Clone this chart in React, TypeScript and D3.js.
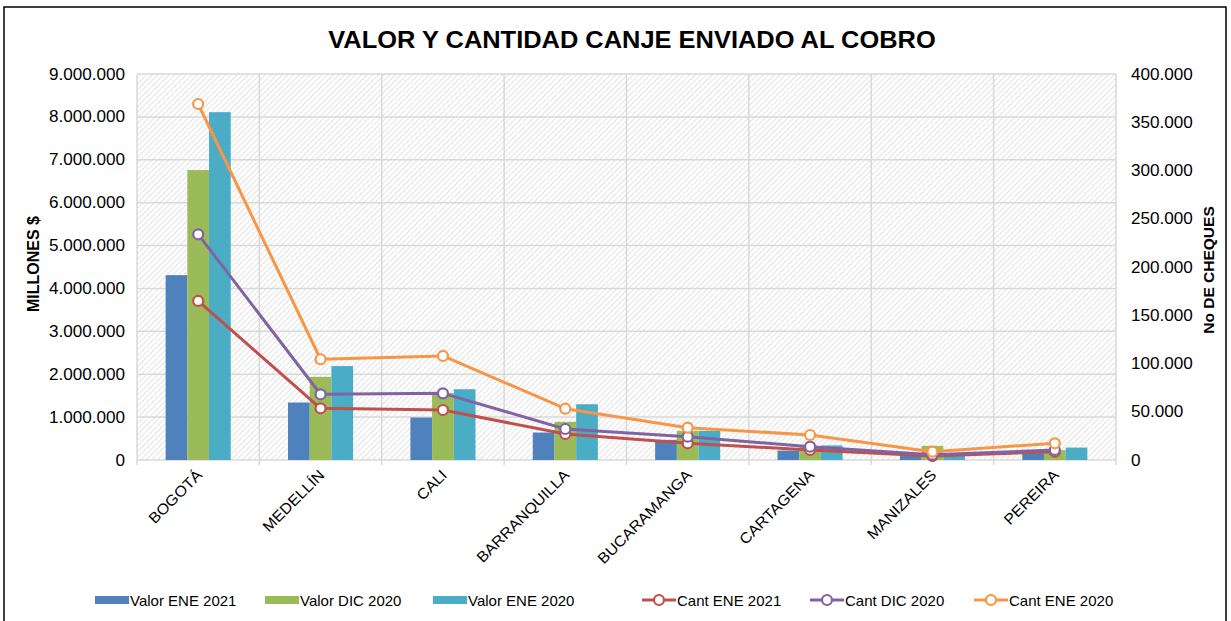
import React from 'react';
import * as d3 from 'd3';

const cities = ['BOGOTÁ', 'MEDELLÍN', 'CALI', 'BARRANQUILLA', 'BUCARAMANGA', 'CARTAGENA', 'MANIZALES', 'PEREIRA'];

// valores en millones $
const valorEne2021 = [4310000, 1340000, 990000, 640000, 470000, 220000, 120000, 160000];
const valorDic2020 = [6760000, 1940000, 1560000, 890000, 680000, 310000, 330000, 230000];
const valorEne2020 = [8110000, 2190000, 1650000, 1300000, 680000, 340000, 160000, 290000];

// cantidad de cheques
const cantEne2021 = [164800, 53600, 51800, 27000, 17300, 10400, 4100, 8600];
const cantDic2020 = [233900, 68100, 69100, 32100, 24200, 13800, 5500, 10400];
const cantEne2020 = [368900, 104400, 107800, 53200, 33500, 25900, 8600, 17300];

const leftTicks = [0, 1000000, 2000000, 3000000, 4000000, 5000000, 6000000, 7000000, 8000000, 9000000];
const rightTicks = [0, 50000, 100000, 150000, 200000, 250000, 300000, 350000, 400000];

const barSeries = [
  { name: 'Valor ENE 2021', values: valorEne2021, color: '#4F81BD' },
  { name: 'Valor DIC 2020', values: valorDic2020, color: '#9BBB59' },
  { name: 'Valor ENE 2020', values: valorEne2020, color: '#4BACC6' },
];
const lineSeries = [
  { name: 'Cant ENE 2021', values: cantEne2021, color: '#C0504D' },
  { name: 'Cant DIC 2020', values: cantDic2020, color: '#8064A2' },
  { name: 'Cant ENE 2020', values: cantEne2020, color: '#F79646' },
];

const W = 1231, H = 621;
const plot = { left: 137, right: 1116, top: 74, bottom: 460 };
const font = '"Liberation Sans", Arial, sans-serif';
const SX = 1.07; // el texto del original es algo mas ancho

const fmt = d3.formatLocale({ decimal: ',', thousands: '.', grouping: [3], currency: ['$', ''] }).format(',.0f');

export default function App() {
  const x = d3.scaleBand<string>().domain(cities).range([plot.left, plot.right]);
  const xs = d3.scaleBand<string>()
    .domain(barSeries.map(s => s.name))
    .range([0, x.bandwidth()])
    .paddingInner(0)
    .paddingOuter(1.32);
  const yL = d3.scaleLinear().domain([0, 9000000]).range([plot.bottom, plot.top]);
  const yR = d3.scaleLinear().domain([0, 400000]).range([plot.bottom, plot.top]);

  const line = (vals: number[]) =>
    d3.line<number>()
      .x((_, i) => x(cities[i])! + x.bandwidth() / 2)
      .y(d => yR(d))(vals) || '';

  const legendItems = [
    { name: 'Valor ENE 2021', color: '#4F81BD', kind: 'bar', x: 95 },
    { name: 'Valor DIC 2020', color: '#9BBB59', kind: 'bar', x: 265 },
    { name: 'Valor ENE 2020', color: '#4BACC6', kind: 'bar', x: 433 },
    { name: 'Cant ENE 2021', color: '#C0504D', kind: 'line', x: 642 },
    { name: 'Cant DIC 2020', color: '#8064A2', kind: 'line', x: 810 },
    { name: 'Cant ENE 2020', color: '#F79646', kind: 'line', x: 974 },
  ];

  return (
    <svg width={W} height={H} style={{ position: 'fixed', left: 0, top: 0, background: '#fff' }} fontFamily={font}>
      <defs>
        <pattern id="hatch" patternUnits="userSpaceOnUse" width="4" height="4" patternTransform="rotate(45)">
          <rect width="4" height="4" fill="#fff" />
          <line x1="0" y1="0" x2="0" y2="4" stroke="#cfcfcf" strokeWidth="1.2" />
        </pattern>
      </defs>
      <rect x={4} y={7} width={1222} height={630} fill="#fff" stroke="#000" strokeWidth={1.5} />

      <text transform={`translate(632,48) scale(1.06,1)`} textAnchor="middle" fontSize={24} fontWeight="bold" fill="#000">
        VALOR Y CANTIDAD CANJE ENVIADO AL COBRO
      </text>

      {/* area de trazado */}
      <rect x={plot.left} y={plot.top} width={plot.right - plot.left} height={plot.bottom - plot.top} fill="url(#hatch)" />
      {leftTicks.map(t => (
        <line key={'h' + t} x1={plot.left} x2={plot.right} y1={yL(t)} y2={yL(t)} stroke="#d9d9d9" strokeWidth={1.5} />
      ))}
      {cities.map(c => (
        <line key={'v' + c} x1={x(c)} x2={x(c)} y1={plot.top} y2={plot.bottom + 5} stroke="#d9d9d9" strokeWidth={1.5} />
      ))}
      <line x1={plot.right} x2={plot.right} y1={plot.top} y2={plot.bottom + 5} stroke="#d9d9d9" strokeWidth={1.5} />

      {/* barras */}
      {barSeries.map(s => (
        <g key={s.name}>
          {s.values.map((v, i) => (
            <rect key={i} x={x(cities[i])! + xs(s.name)!} width={xs.bandwidth()} y={yL(v)} height={plot.bottom - yL(v)} fill={s.color} />
          ))}
        </g>
      ))}

      {/* lineas */}
      {lineSeries.map(s => (
        <g key={s.name}>
          <path d={line(s.values)} fill="none" stroke={s.color} strokeWidth={3} strokeLinejoin="round" />
          {s.values.map((v, i) => (
            <circle key={i} cx={x(cities[i])! + x.bandwidth() / 2} cy={yR(v)} r={5} fill="#fff" stroke={s.color} strokeWidth={2.2} />
          ))}
        </g>
      ))}

      {/* ejes */}
      {leftTicks.map(t => (
        <text key={'l' + t} transform={`translate(125,${yL(t) + 5.5}) scale(${SX},1)`} textAnchor="end" fontSize={16} fill="#000">{fmt(t)}</text>
      ))}
      {rightTicks.map(t => (
        <text key={'r' + t} transform={`translate(1131,${yR(t) + 5.5}) scale(${SX},1)`} textAnchor="start" fontSize={16} fill="#000">{fmt(t)}</text>
      ))}
      {cities.map(c => {
        const cx = x(c)! + x.bandwidth() / 2 + 5;
        return (
          <text key={'c' + c} transform={`translate(${cx},${476}) rotate(-45) scale(${SX},1)`} textAnchor="end" fontSize={15} fill="#000">{c}</text>
        );
      })}
      <text transform="translate(39,264) rotate(-90)" textAnchor="middle" fontSize={16} fontWeight="bold" fill="#000">MILLONES $</text>
      <text transform="translate(1214,270) rotate(-90)" textAnchor="middle" fontSize={15.5} fontWeight="bold" fill="#000">No DE CHEQUES</text>

      {/* leyenda */}
      {legendItems.map(it => (
        <g key={it.name} transform={`translate(${it.x},600)`}>
          {it.kind === 'bar'
            ? <rect x={0} y={-4} width={34} height={8} fill={it.color} />
            : <g>
                <line x1={0} x2={34} y1={0} y2={0} stroke={it.color} strokeWidth={3} />
                <circle cx={17} cy={0} r={5} fill="#fff" stroke={it.color} strokeWidth={2.2} />
              </g>}
          <text x={35} y={5.5} fontSize={15} fill="#000">{it.name}</text>
        </g>
      ))}
    </svg>
  );
}
